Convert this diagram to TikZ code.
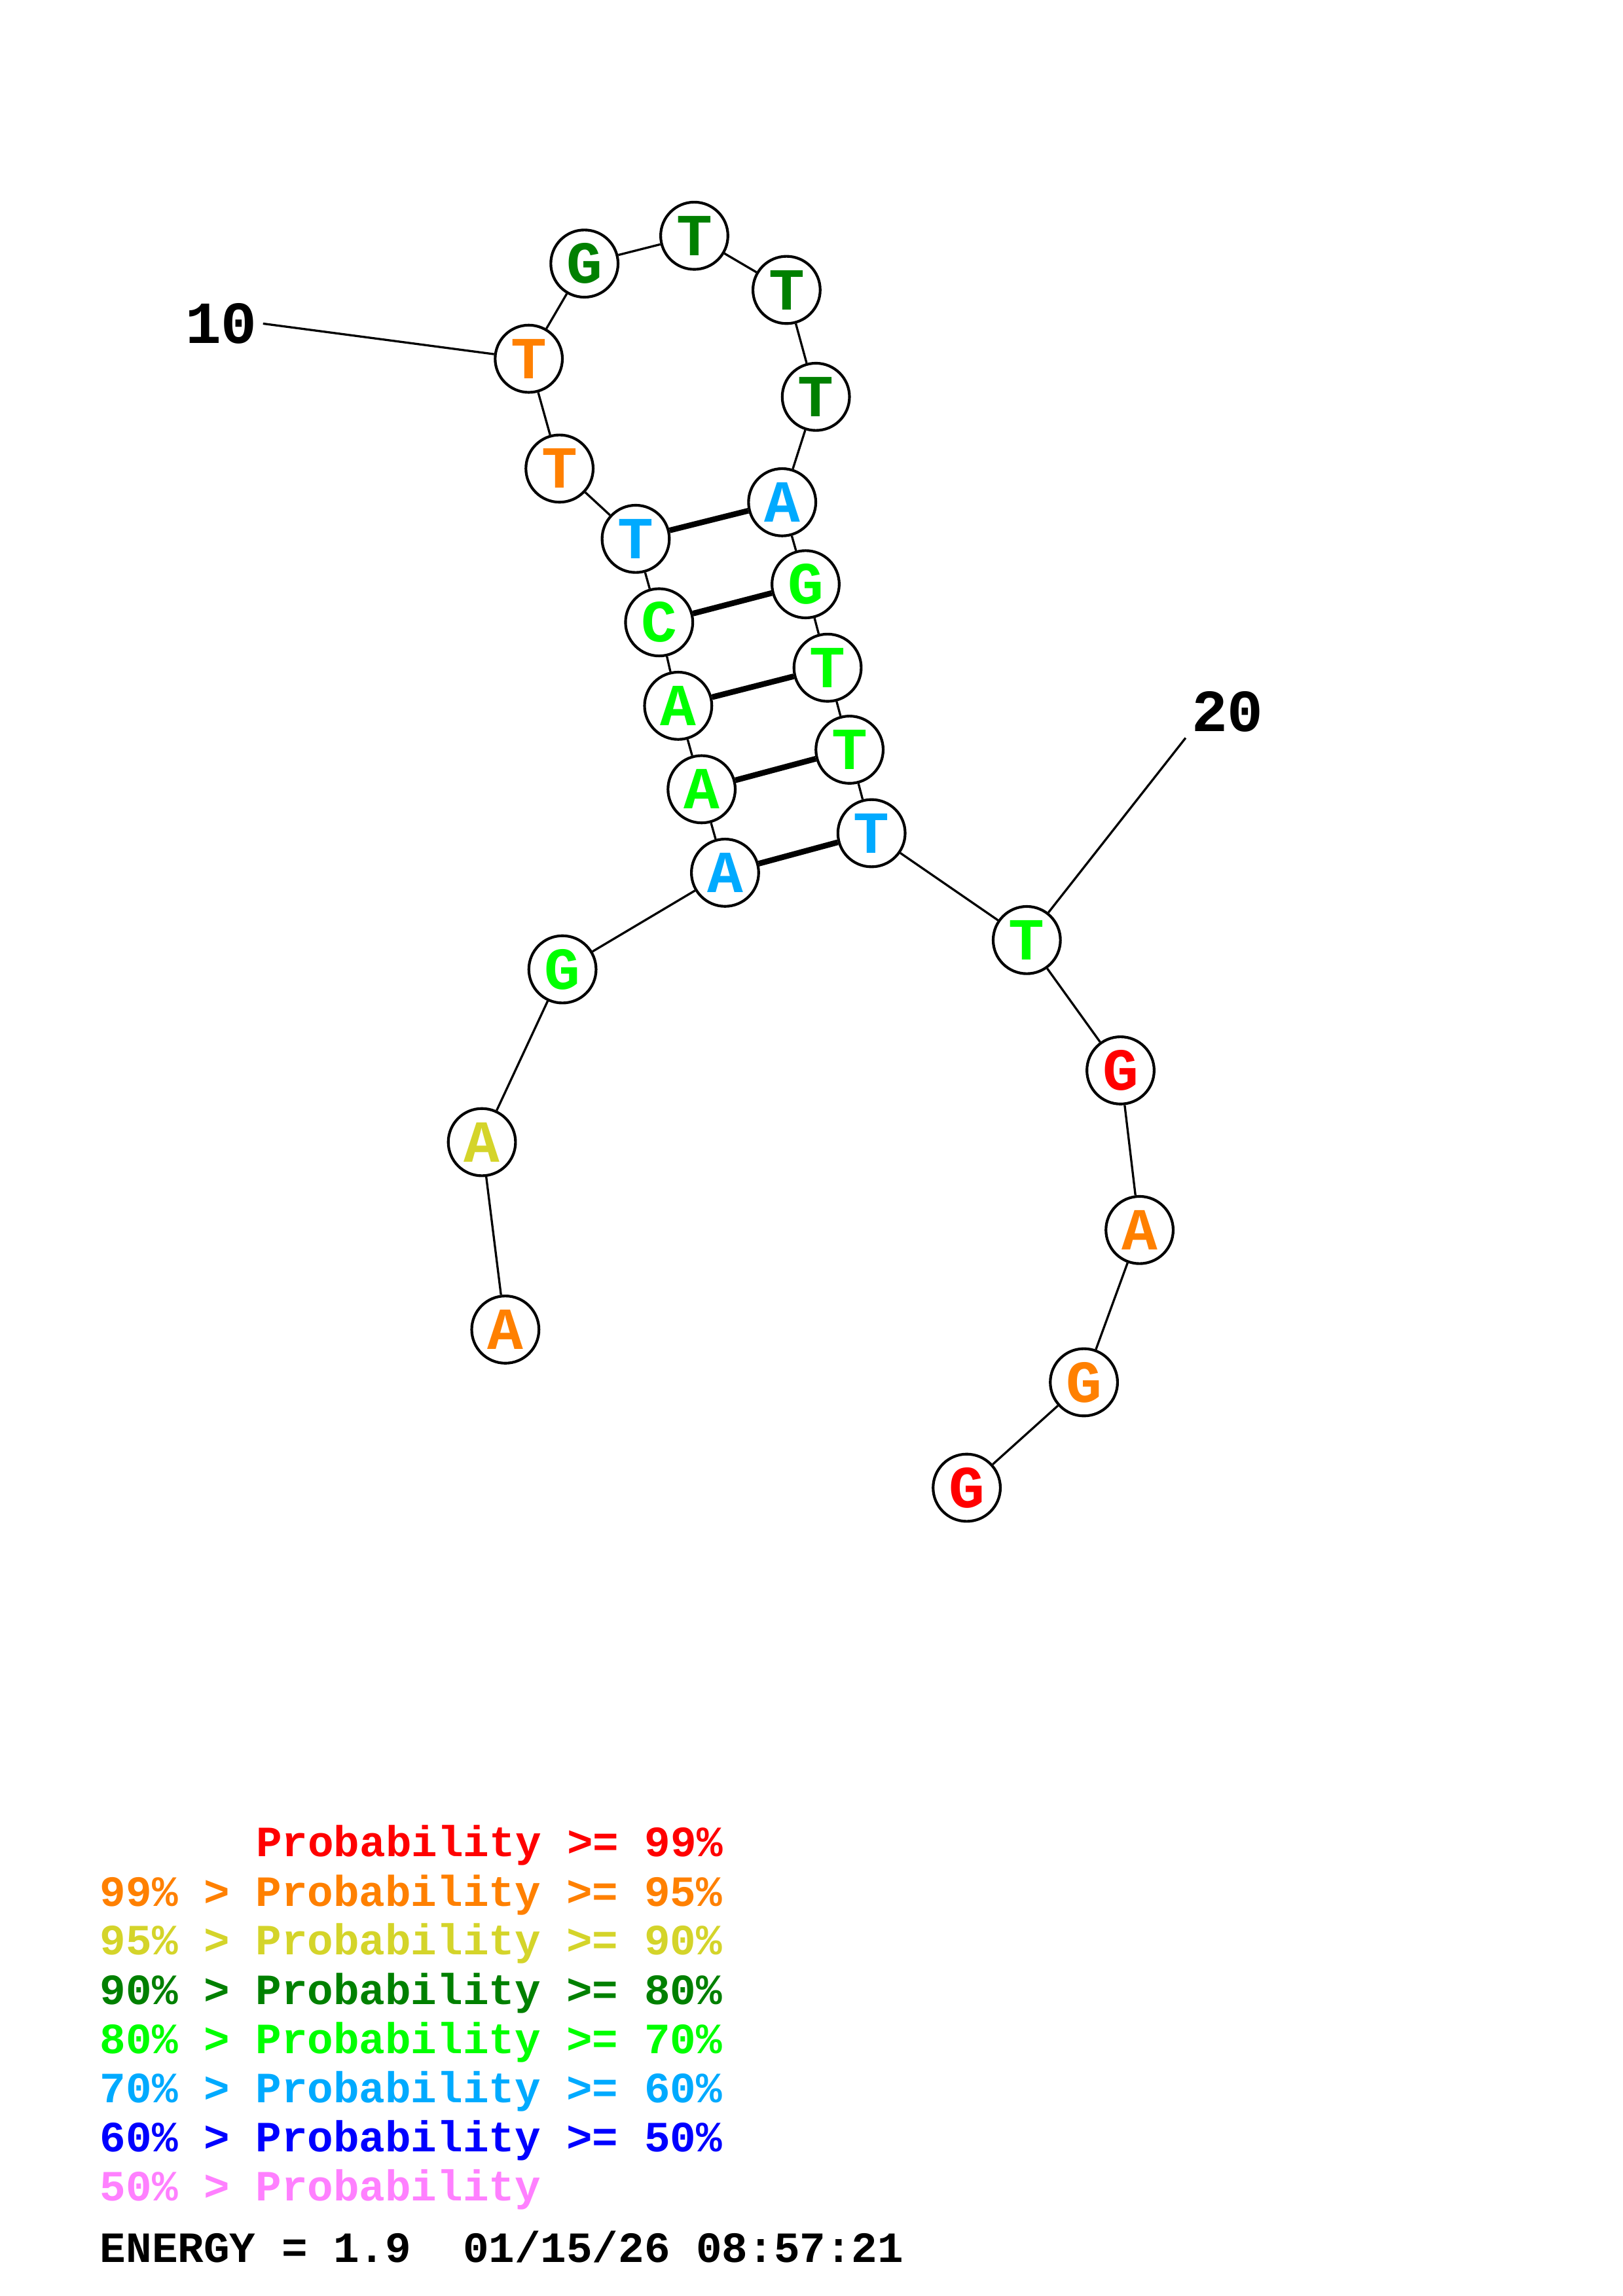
\documentclass[tikz,border=0pt]{standalone}
\usepackage{fontspec}
\setmonofont{Liberation Mono}
\usetikzlibrary{positioning}
\definecolor{PRed}{HTML}{FF0000}
\definecolor{POrange}{HTML}{FF8000}
\definecolor{PYellow}{HTML}{D4D42A}
\definecolor{PDkGreen}{HTML}{008000}
\definecolor{PGreen}{HTML}{00FF00}
\definecolor{PSky}{HTML}{00AAFF}
\definecolor{PBlue}{HTML}{0000FF}
\definecolor{PPink}{HTML}{FF80FF}
\tikzset{
  nt/.style={circle, draw=black, line width=1pt, fill=white,
             minimum size=8.7mm, inner sep=0pt,
             font=\fontsize{22}{22}\selectfont\ttfamily\bfseries},
  bb/.style={line width=0.8pt},
  pairline/.style={line width=2.1pt},
  numlbl/.style={inner sep=2pt,
             font=\fontsize{22}{22}\selectfont\ttfamily\bfseries},
  legend/.style={anchor=base west, inner sep=0pt,
             font=\fontsize{15.9}{15.9}\selectfont\ttfamily\bfseries}
}

\begin{document}
\begin{tikzpicture}[x=0.18953mm, y=-0.18953mm]
  \useasboundingbox (0,0) rectangle (1108,1568);

  % nucleotides
  \node[nt, text=POrange]  (b1)  at (345,908)  {A};
  \node[nt, text=PYellow]  (b2)  at (329,780)  {A};
  \node[nt, text=PGreen]   (b3)  at (384,662)  {G};
  \node[nt, text=PSky]     (b4)  at (495,596)  {A};
  \node[nt, text=PGreen]   (b5)  at (479,539)  {A};
  \node[nt, text=PGreen]   (b6)  at (463,482)  {A};
  \node[nt, text=PGreen]   (b7)  at (450,425)  {C};
  \node[nt, text=PSky]     (b8)  at (434,368)  {T};
  \node[nt, text=POrange]  (b9)  at (382,320)  {T};
  \node[nt, text=POrange]  (b10) at (361,245)  {T};
  \node[nt, text=PDkGreen] (b11) at (399,180)  {G};
  \node[nt, text=PDkGreen] (b12) at (474,161)  {T};
  \node[nt, text=PDkGreen] (b13) at (537,198)  {T};
  \node[nt, text=PDkGreen] (b14) at (557,271)  {T};
  \node[nt, text=PSky]     (b15) at (534,343)  {A};
  \node[nt, text=PGreen]   (b16) at (550,399)  {G};
  \node[nt, text=PGreen]   (b17) at (565,456)  {T};
  \node[nt, text=PGreen]   (b18) at (580,512)  {T};
  \node[nt, text=PSky]     (b19) at (595,569)  {T};
  \node[nt, text=PGreen]   (b20) at (701,642)  {T};
  \node[nt, text=PRed]     (b21) at (765,731)  {G};
  \node[nt, text=POrange]  (b22) at (778,840)  {A};
  \node[nt, text=POrange]  (b23) at (740,944)  {G};
  \node[nt, text=PRed]     (b24) at (660,1016) {G};

  % backbone
  \foreach \i [evaluate=\i as \j using int(\i+1)] in {1,...,23}
    \draw[bb] (b\i) -- (b\j);

  % base pairs
  \draw[pairline] (b4) -- (b19);
  \draw[pairline] (b5) -- (b18);
  \draw[pairline] (b6) -- (b17);
  \draw[pairline] (b7) -- (b16);
  \draw[pairline] (b8) -- (b15);

  % numbering
  \node[numlbl] (l10) at (151,221) {10};
  \node[numlbl] (l20) at (838,486) {20};
  \draw[bb] (l10.east) -- (b10);
  \draw[bb] (l20.south west) -- (b20);

  % legend
  \node[legend, text=PRed]     (g1) at (174.5,1268) {Probability >= 99\%};
  \node[legend, text=POrange]  (g2) at (68,1301.6)  {99\% > Probability >= 95\%};
  \node[legend, text=PYellow]  (g3) at (68,1335.1)  {95\% > Probability >= 90\%};
  \node[legend, text=PDkGreen] (g4) at (68,1368.7)  {90\% > Probability >= 80\%};
  \node[legend, text=PGreen]   (g5) at (68,1402.3)  {80\% > Probability >= 70\%};
  \node[legend, text=PSky]     (g6) at (68,1435.9)  {70\% > Probability >= 60\%};
  \node[legend, text=PBlue]    (g7) at (68,1469.4)  {60\% > Probability >= 50\%};
  \node[legend, text=PPink]    (g8) at (68,1503)    {50\% > Probability};
  \node[legend, text=black]    (en) at (68,1545)    {ENERGY = 1.9\ \ 01/15/26 08:57:21};
\end{tikzpicture}
\end{document}
